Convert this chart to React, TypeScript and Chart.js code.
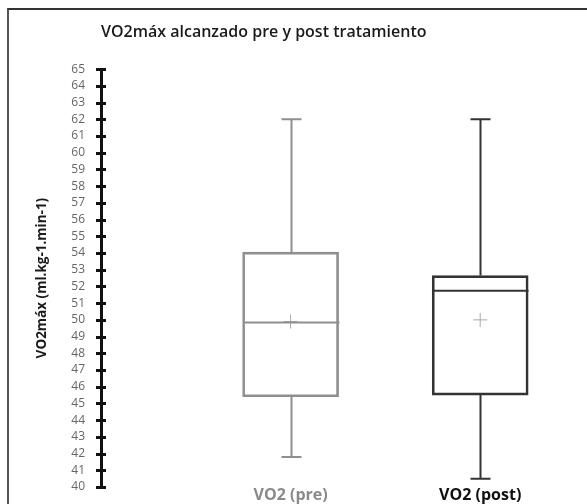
import React, { useEffect, useRef } from "react";
import { Chart, registerables } from "chart.js";

Chart.register(...registerables);

const categories = ["VO2 (pre)", "VO2 (post)"];
const categoryPos = [1, 2];
const whiskerMin = [41.8, 40.5];
const q1Values = [45.4, 45.5];
const medianValues = [49.85, 51.75];
const q3Values = [54.05, 52.65];
const whiskerMax = [62, 62];
const meanValues = [49.9, 50.0];
const boxColors = ["#8f8f8f", "#333333"];
const labelColors = ["#8a8a8a", "#111111"];
const yTitle = "VO2máx (ml.kg-1.min-1)";
const chartTitle = "VO2máx alcanzado pre y post tratamiento";

const boxPlotPlugin = {
  id: "boxplotExtras",
  afterDatasetsDraw(chart: any) {
    const { ctx, scales } = chart;
    const x = scales.x;
    const y = scales.y;
    const meta = chart.getDatasetMeta(0);
    ctx.save();
    categoryPos.forEach((pos, i) => {
      const cx = Math.round(x.getPixelForValue(pos)) + 0.5;
      const bar = meta.data[i];
      const half = bar ? bar.width / 2 : 48;
      ctx.strokeStyle = boxColors[i];
      ctx.lineWidth = 2;
      const my = y.getPixelForValue(medianValues[i]);
      ctx.beginPath();
      ctx.moveTo(cx - half, my);
      ctx.lineTo(cx + half, my);
      ctx.stroke();
      const yMax = y.getPixelForValue(whiskerMax[i]);
      const yQ3 = y.getPixelForValue(q3Values[i]);
      const yQ1 = y.getPixelForValue(q1Values[i]);
      const yMin = y.getPixelForValue(whiskerMin[i]);
      ctx.beginPath();
      ctx.moveTo(cx, yQ3);
      ctx.lineTo(cx, yMax);
      ctx.moveTo(cx, yQ1);
      ctx.lineTo(cx, yMin);
      ctx.moveTo(cx - 10, yMax);
      ctx.lineTo(cx + 10, yMax);
      ctx.moveTo(cx - 10, yMin);
      ctx.lineTo(cx + 10, yMin);
      ctx.stroke();
    });
    ctx.restore();
  },
};

const yTickMarksPlugin = {
  id: "yTickMarks",
  afterDraw(chart: any) {
    const { ctx, scales } = chart;
    const y = scales.y;
    const ax = y.right;
    ctx.save();
    ctx.strokeStyle = "#111";
    ctx.lineWidth = 3;
    y.ticks.forEach((t: any) => {
      const py = Math.round(y.getPixelForValue(t.value)) + 0.5;
      ctx.beginPath();
      ctx.moveTo(ax - 5, py);
      ctx.lineTo(ax + 5, py);
      ctx.stroke();
    });
    ctx.restore();
  },
};

export default function App() {
  const canvasRef = useRef<HTMLCanvasElement | null>(null);

  useEffect(() => {
    if (!canvasRef.current) return;
    const chart = new Chart(canvasRef.current, {
      type: "bar",
      data: {
        datasets: [
          {
            type: "bar",
            data: categoryPos.map((p, i) => ({ x: p, y: [q1Values[i], q3Values[i]] })) as any,
            backgroundColor: "rgba(0,0,0,0)",
            borderColor: boxColors,
            borderWidth: 2,
            borderSkipped: false,
            barThickness: 96,
          } as any,
          {
            type: "scatter",
            data: categoryPos.map((p, i) => ({ x: p, y: meanValues[i] })),
            pointStyle: "cross",
            radius: 7,
            borderColor: "#a8a8a8",
            borderWidth: 1,
            backgroundColor: "#a8a8a8",
          } as any,
        ],
      },
      options: {
        animation: false,
        responsive: false,
        layout: { padding: { left: 30, right: 12, top: 0, bottom: 0 } },
        plugins: {
          legend: { display: false },
          tooltip: { enabled: false },
          title: {
            display: true,
            text: chartTitle,
            fullSize: false,
            align: "start",
            color: "#1a1a1a",
            font: { family: "Open Sans", size: 16, weight: "600" },
            padding: { top: 23, bottom: 27 },
          },
        },
        scales: {
          x: {
            type: "linear",
            min: 0,
            max: 2.5,
            offset: false,
            afterBuildTicks: (scale: any) => {
              scale.ticks = categoryPos.map((v) => ({ value: v }));
            },
            afterFit: (scale: any) => {
              scale.height = 17;
            },
            ticks: {
              autoSkip: false,
              padding: 0,
              maxRotation: 0,
              callback: (v: any) => {
                const idx = categoryPos.indexOf(Number(v));
                return idx >= 0 ? categories[idx] : "";
              },
              color: (ctx: any) => labelColors[ctx.index] || "#111",
              font: { family: "Open Sans", size: 16, weight: "bold", lineHeight: 1.05 },
            },
            grid: { display: false, drawTicks: false },
            border: { display: false },
          },
          y: {
            type: "linear",
            min: 40,
            max: 65,
            afterFit: (scale: any) => {
              scale.width = 71;
              scale.paddingTop = 8;
              scale.paddingBottom = 8;
            },
            ticks: {
              stepSize: 1,
              autoSkip: false,
              padding: 16,
              color: "#666",
              font: { family: "Open Sans", size: 12 },
            },
            grid: { display: false, drawTicks: false },
            border: { display: true, color: "#111", width: 3 },
            title: {
              display: true,
              text: yTitle,
              color: "#1a1a1a",
              font: { family: "Open Sans", size: 13.5, weight: "bold" },
              padding: { top: 4, bottom: 0 },
            },
          },
        },
      },
      plugins: [boxPlotPlugin, yTickMarksPlugin],
    });
    return () => chart.destroy();
  }, []);

  return (
    <div
      style={{
        position: "fixed",
        left: 0,
        top: 0,
        width: 587,
        height: 504,
        background: "#fff",
        overflow: "hidden",
      }}
    >
      <div
        style={{
          position: "absolute",
          left: 7,
          top: 8,
          width: 600,
          height: 520,
          borderTop: "2px solid #333",
          borderLeft: "2px solid #555",
          boxSizing: "border-box",
        }}
      />
      <canvas
        ref={canvasRef}
        width={587}
        height={504}
        style={{ position: "absolute", left: 0, top: 0, width: 587, height: 504 }}
      />
    </div>
  );
}
